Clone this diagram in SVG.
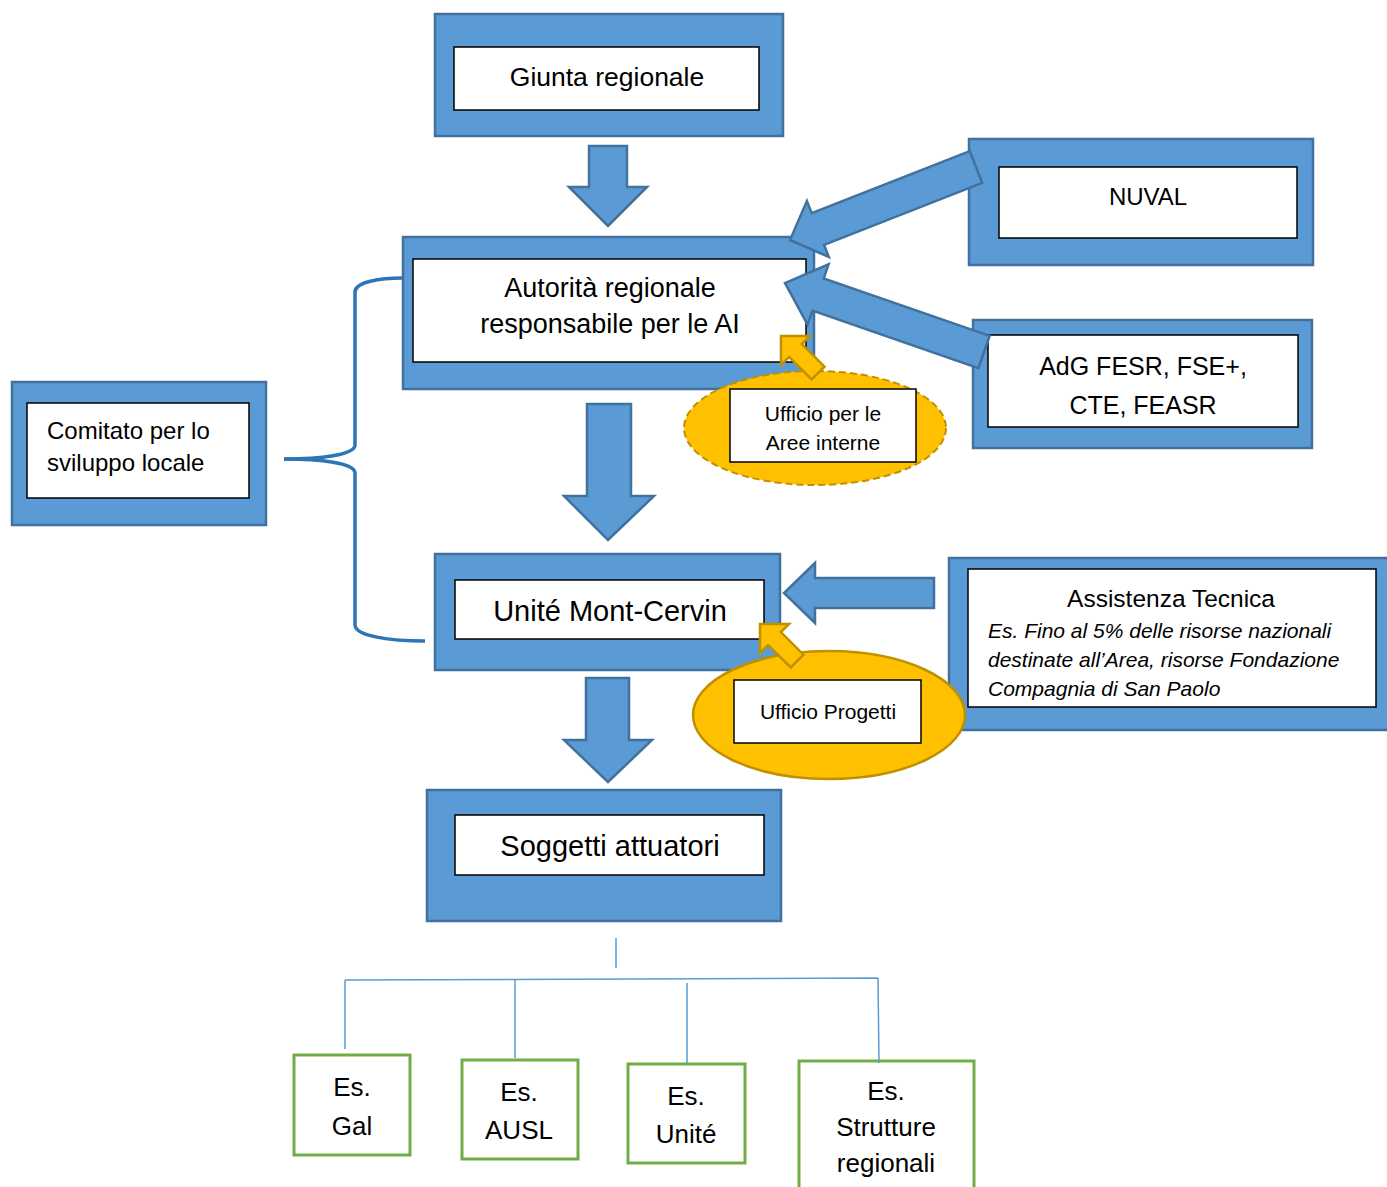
<svg xmlns="http://www.w3.org/2000/svg" width="1387" height="1187" viewBox="0 0 1387 1187">
<style>
.outer{fill:#5B9BD5;stroke:#41719C;stroke-width:2.5}
.inner{fill:#fff;stroke:#000;stroke-width:1.5}
.barrow{fill:#5B9BD5;stroke:#41719C;stroke-width:2.5;stroke-linejoin:miter}
.yarrow{fill:#FFC000;stroke:#BF9000;stroke-width:2.5}
.green{fill:#fff;stroke:#70AD47;stroke-width:3}
.tree{fill:none;stroke:#5B9BD5;stroke-width:1.5}
.brace{fill:none;stroke:#2E75B6;stroke-width:3.5}
text{font-family:"Liberation Sans",Arial,sans-serif;fill:#000}
.c{text-anchor:middle}
</style>
<rect width="1387" height="1187" fill="#fff"/>

<g id="giunta">
  <rect class="outer" x="435" y="14" width="348" height="122"/>
  <rect class="inner" x="454" y="47" width="305" height="63"/>
  <text class="c" x="607" y="86" font-size="26.5">Giunta regionale</text>
</g>

<g id="autorita">
  <rect class="outer" x="403" y="237" width="411" height="152"/>
  <rect class="inner" x="413" y="259" width="393" height="103"/>
  <text class="c" x="610" y="297" font-size="27">Autorità regionale</text>
  <text class="c" x="610" y="333" font-size="27">responsabile per le AI</text>
</g>

<g id="nuval">
  <rect class="outer" x="969" y="139" width="344" height="126"/>
  <rect class="inner" x="999" y="167" width="298" height="71"/>
  <text class="c" x="1148" y="205" font-size="24">NUVAL</text>
</g>

<g id="adg">
  <rect class="outer" x="973" y="320" width="339" height="128"/>
  <rect class="inner" x="988" y="335" width="310" height="92"/>
  <text class="c" x="1143" y="375" font-size="25">AdG FESR, FSE+,</text>
  <text class="c" x="1143" y="414" font-size="25">CTE, FEASR</text>
</g>

<g id="ufficio-aree">
  <ellipse cx="815" cy="428" rx="131" ry="57" fill="#FFC000" stroke="#BF9000" stroke-width="2" stroke-dasharray="7,4"/>
  <rect class="inner" x="730" y="389" width="186" height="73"/>
  <text class="c" x="823" y="421" font-size="21">Ufficio per le</text>
  <text class="c" x="823" y="450" font-size="21">Aree interne</text>
  <polygon class="yarrow" points="781,336 810,336 801.9,344.1 824.5,366.7 811.7,379.5 789.1,356.9 781,365"/>
</g>

<g id="comitato">
  <rect class="outer" x="12" y="382" width="254" height="143"/>
  <rect class="inner" x="27" y="403" width="222" height="95"/>
  <text x="47" y="439" font-size="24">Comitato per lo</text>
  <text x="47" y="471" font-size="24">sviluppo locale</text>
</g>

<g id="unite">
  <rect class="outer" x="435" y="554" width="345" height="116"/>
  <rect class="inner" x="455" y="580" width="309" height="59"/>
  <text class="c" x="610" y="621" font-size="29">Unité Mont-Cervin</text>
</g>

<g id="assistenza">
  <rect class="outer" x="949" y="558" width="445" height="172"/>
  <rect class="inner" x="968" y="569" width="408" height="138"/>
  <text class="c" x="1171" y="607" font-size="24.5">Assistenza Tecnica</text>
  <text x="988" y="638" font-size="21" font-style="italic">Es. Fino al 5% delle risorse nazionali</text>
  <text x="988" y="667" font-size="21" font-style="italic">destinate all’Area, risorse Fondazione</text>
  <text x="988" y="696" font-size="21" font-style="italic">Compagnia di San Paolo</text>
</g>

<g id="ufficio-progetti">
  <ellipse cx="829" cy="715" rx="136" ry="64" fill="#FFC000" stroke="#BF9000" stroke-width="2.5"/>
  <rect class="inner" x="734" y="680" width="187" height="63"/>
  <text class="c" x="828" y="719" font-size="21">Ufficio Progetti</text>
  <polygon class="yarrow" points="760,624 789,624 780.9,632.1 803.5,654.7 790.7,667.5 768.1,644.9 760,653"/>
</g>

<g id="soggetti">
  <rect class="outer" x="427" y="790" width="354" height="131"/>
  <rect class="inner" x="455" y="815" width="309" height="60"/>
  <text class="c" x="610" y="856" font-size="29">Soggetti attuatori</text>
</g>

<g id="gal">
  <rect class="green" x="294" y="1055" width="116" height="100"/>
  <text class="c" x="352" y="1096" font-size="26">Es.</text>
  <text class="c" x="352" y="1135" font-size="26">Gal</text>
</g>
<g id="ausl">
  <rect class="green" x="462" y="1060" width="116" height="99"/>
  <text class="c" x="519" y="1101" font-size="26">Es.</text>
  <text class="c" x="519" y="1139" font-size="26">AUSL</text>
</g>
<g id="unite-es">
  <rect class="green" x="628" y="1064" width="117" height="99"/>
  <text class="c" x="686" y="1105" font-size="26">Es.</text>
  <text class="c" x="686" y="1143" font-size="26">Unité</text>
</g>
<g id="strutture">
  <rect class="green" x="799" y="1061" width="175" height="140"/>
  <text class="c" x="886" y="1100" font-size="26">Es.</text>
  <text class="c" x="886" y="1136" font-size="26">Strutture</text>
  <text class="c" x="886" y="1172" font-size="26">regionali</text>
</g>

<g id="connectors">
  <polygon class="barrow" points="589,146 627,146 627,187 647,187 608,226 569,187 589,187"/>
  <polygon class="barrow" points="587,404 631,404 631,496 654,496 608,540 564,496 587,496"/>
  <polygon class="barrow" points="586,678 629,678 629,740 652,740 608,782 564,740 586,740"/>
  <polygon class="barrow" points="969.8,151.2 811.7,213.2 806.9,201.1 790,240 828.8,257 824.1,244.9 982.2,182.8"/>
  <polygon class="barrow" points="989.6,335.9 823.7,278.4 828.6,264.3 785,283 807.6,324.7 812.5,310.6 978.4,368.1"/>
  <polygon class="barrow" points="934,578 815,578 815,563 784,593 815,623 815,608 934,608"/>
  <path class="brace" d="M284,459 C320,459 355,455 355,445 L355,292 C355,282 380,278 403,278"/>
  <path class="brace" d="M284,459 C320,459 355,463 355,473 L355,625 C355,636 390,641 425,641"/>
  <path class="tree" d="M616,938 L616,968 M345,980 L878,978 M345,980 L345,1049 M515,980 L515,1058 M687,983 L687,1063 M878,978 L879,1063"/>
</g>
</svg>
